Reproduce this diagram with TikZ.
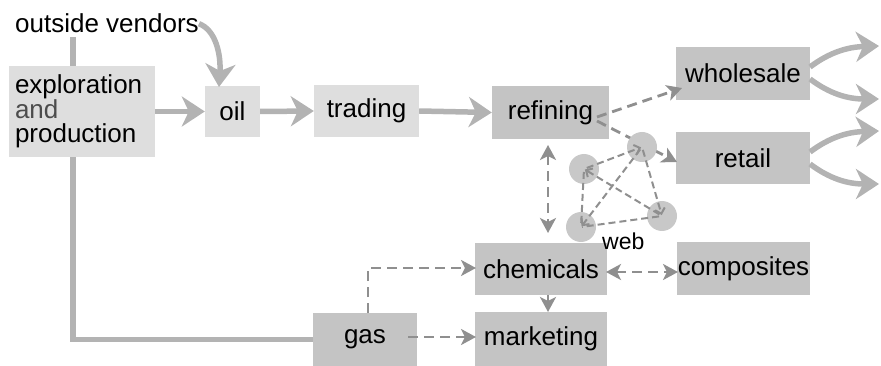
\documentclass[tikz,border=0pt]{standalone}
\usepackage{fontspec}
\setmainfont{Liberation Sans}
\usetikzlibrary{arrows.meta}
\definecolor{lboxc}{HTML}{DEDEDE}
\definecolor{dboxc}{HTML}{C4C4C4}
\definecolor{thickc}{HTML}{B3B3B3}
\definecolor{dashc}{HTML}{8F8F8F}
\definecolor{webc}{HTML}{C8C8C8}
\begin{document}
\begin{tikzpicture}[x=1pt,y=-1pt,
  lightbox/.style={fill=lboxc, inner sep=0pt, font=\fontsize{26}{24.5}\selectfont},
  darkbox/.style={fill=dboxc, inner sep=0pt, font=\fontsize{26}{26}\selectfont},
  thickline/.style={draw=thickc, line width=5.5pt},
  thickarrow/.style={draw=thickc, line width=5.5pt, -{Stealth[length=23pt,width=30pt,inset=7pt]}},
  dasharrow/.style={draw=dashc, line width=2.8pt, dash pattern=on 10pt off 6pt, -{Stealth[length=15pt,width=16pt,inset=4pt]}},
  dashboth/.style={draw=dashc, line width=2.8pt, dash pattern=on 10pt off 6pt, {Stealth[length=15pt,width=16pt,inset=4pt]}-{Stealth[length=15pt,width=16pt,inset=4pt]}},
  webarrow/.style={draw=dashc, line width=2pt, dash pattern=on 7pt off 4pt, -{Straight Barb[length=5pt,width=10pt]}, shorten >=1pt, shorten <=3pt},
  webline/.style={draw=dashc, line width=2pt, dash pattern=on 7pt off 4pt, shorten >=1pt, shorten <=3pt},
  webnode/.style={circle, fill=webc, minimum size=30pt, inner sep=0pt}]
\useasboundingbox (0,0) rectangle (881,366);

% connector start above exploration box
\coordinate (vtop) at (73,37);

% gas box first (needed for the connector)
\node[darkbox, minimum width=104pt, minimum height=53pt] (gas) at (365,339.5) {gas};
% line from top to gas, behind exploration box
\draw[thickline] (vtop) |- (gas.west);

% boxes
\node[lightbox, minimum width=146pt, minimum height=91pt, text width=134pt, align=left] (ep) at (82,111.5)
  {exploration\\{\color{black!70}and}\\production};
\node[lightbox, minimum width=55pt, minimum height=51pt] (oil) at (232.5,111.5) {oil};
\node[lightbox, minimum width=105pt, minimum height=52pt] (trd) at (366.5,111) {trading};
\node[darkbox, minimum width=117pt, minimum height=53pt] (ref) at (550.5,112.5) {refining};
\node[darkbox, minimum width=134pt, minimum height=53pt] (ws) at (743,73.5) {wholesale};
\node[darkbox, minimum width=134pt, minimum height=52pt] (rt) at (743,158) {retail};
\node[darkbox, minimum width=132pt, minimum height=52pt] (chem) at (541,269) {chemicals};
\node[darkbox, minimum width=133pt, minimum height=53pt] (comp) at (743.5,268.5) {composites};
\node[darkbox, minimum width=132pt, minimum height=54pt] (mkt) at (541,339) {marketing};

\node[anchor=base west, inner sep=0pt, font=\fontsize{26}{26}\selectfont] (ov) at (15,33) {outside vendors};

% thick arrows
\draw[thickarrow] (ep.east) -- (oil.west);
\draw[thickarrow] (oil.east) -- (trd.west);
\draw[thickarrow] (trd.east) -- (ref.west);
\coordinate (oilin) at (219,87);
\draw[thickarrow] (ov.east) .. controls (216,30) and (221,55) .. (oilin);

% curved output arrows
\coordinate (ws1) at (810,67);
\coordinate (ws2) at (810,79);
\coordinate (rt1) at (810,152);
\coordinate (rt2) at (810,164);
\coordinate (o1) at (879,46);
\coordinate (o2) at (879,99);
\coordinate (o3) at (879,131);
\coordinate (o4) at (879,184);
\draw[thickarrow] (ws1) .. controls (830,52) and (848,47) .. (o1);
\draw[thickarrow] (ws2) .. controls (830,94) and (848,99) .. (o2);
\draw[thickarrow] (rt1) .. controls (830,137) and (848,132) .. (o3);
\draw[thickarrow] (rt2) .. controls (830,179) and (848,184) .. (o4);

% dashed arrows from refining
\coordinate (rf1) at (597,117);
\coordinate (rf2) at (597,121);
\coordinate (wsin) at (682,88);
\coordinate (rtin) at (677,162);
\draw[dasharrow] (rf1) -- (wsin);
\draw[dasharrow] (rf2) -- (rtin);

% web circles
\node[webnode] (c1) at (584,169) {};
\node[webnode] (c2) at (642,147) {};
\node[webnode] (c3) at (662,216) {};
\node[webnode] (c4) at (581,227) {};
\draw[webarrow] (c3.center) -- (c1.center);
\draw[webarrow] (c1.center) -- (c2.center);
\draw[webarrow] (c2.center) -- (c3.center);
\draw[webarrow] (c2.center) -- (c4.center);
\draw[webline] (c1.center) -- (c4.center);
\draw[webline] (c3.center) -- (c4.center);
\node[anchor=base west, inner sep=0pt, font=\fontsize{23}{23}\selectfont] (weblbl) at (602,250) {web};

% refining <-> chemicals
\coordinate (rc1) at (548,145);
\coordinate (rc2) at (548,233);
\draw[dashboth] (rc1) -- (rc2);

% chemicals <-> composites
\coordinate (cc1) at (606,272);
\coordinate (cc2) at (678,272);
\draw[dashboth] (cc1) -- (cc2);

% chemicals -> marketing
\coordinate (cm1) at (548,295);
\coordinate (cm2) at (548,312);
\draw[dasharrow] (cm1) -- (cm2);

% gas -> chemicals, gas -> marketing
\coordinate (gs1) at (368,313);
\coordinate (chin) at (476,268);
\draw[dasharrow] (gs1) |- (chin);
\coordinate (gs2) at (408,337);
\coordinate (mkin) at (476,337);
\draw[dasharrow] (gs2) -- (mkin);
\end{tikzpicture}
\end{document}
